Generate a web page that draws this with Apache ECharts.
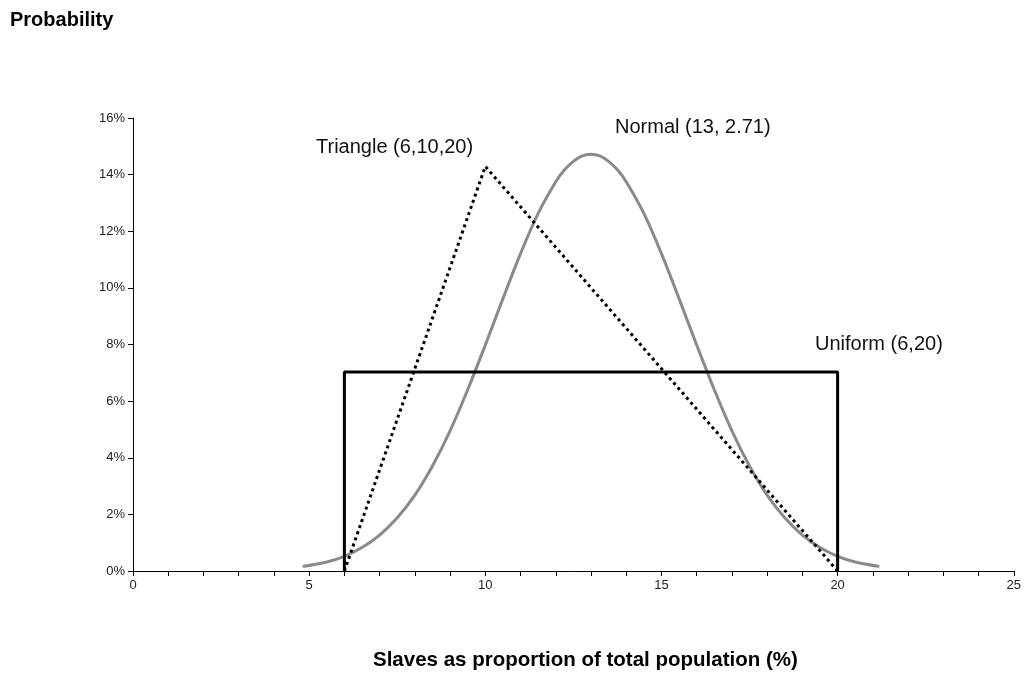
<!DOCTYPE html>
<html><head><meta charset="utf-8">
<script src="https://cdn.jsdelivr.net/npm/echarts@6/dist/echarts.min.js"></script>
<style>html,body{margin:0;padding:0;background:#fff}#c{width:1024px;height:679px}</style>
</head><body><div id="c"></div>
<script>
// Data (values in %)
const normalX = [4.85,5.5,6,6.5,7,7.5,8,8.5,9,9.5,10,10.5,11,11.5,12,12.25,12.5,12.75,13,13.25,13.5,13.75,14,14.5,15,15.5,16,16.5,17,17.5,18,18.5,19,19.5,20,20.5,21.15];
const normalY = [0.17,0.32,0.52,0.83,1.27,1.88,2.68,3.71,4.95,6.40,7.98,9.62,11.21,12.63,13.75,14.17,14.47,14.66,14.72,14.66,14.47,14.17,13.75,12.63,11.21,9.62,7.98,6.40,4.95,3.71,2.68,1.88,1.27,0.83,0.52,0.32,0.17];
const triangleX = [6,10,20];
const triangleY = [0,14.29,0];
const uniformX = [6,6,20,20];
const uniformY = [0,7.03,7.03,0];
const yTicks = [0,2,4,6,8,10,12,14,16];
const xTicks = [0,5,10,15,20,25];

const zip = (a,b)=>a.map((v,i)=>[v,b[i]]);
const FONT = 'Liberation Sans, Arial, sans-serif';
const chart = echarts.init(document.getElementById('c'), null, {renderer:'canvas'});
chart.setOption({
  animation:false,
  backgroundColor:'#fff',
  grid:{left:133,right:10,top:118,bottom:108,containLabel:false},
  xAxis:{type:'value',min:xTicks[0],max:xTicks[xTicks.length-1],interval:5,
    axisLine:{lineStyle:{color:'#000',width:1}},
    axisTick:{show:true,length:5,lineStyle:{color:'#000'}},
    minorTick:{show:true,splitNumber:5,length:5,lineStyle:{color:'#000'}},
    splitLine:{show:false},
    axisLabel:{color:'#222',fontSize:13,fontFamily:FONT,margin:8}},
  yAxis:{type:'value',min:yTicks[0],max:yTicks[yTicks.length-1],interval:2,
    axisLine:{show:true,lineStyle:{color:'#000',width:1}},
    axisTick:{show:true,length:5,lineStyle:{color:'#000'}},
    splitLine:{show:false},
    axisLabel:{color:'#222',fontSize:13,fontFamily:FONT,margin:8,formatter:'{value}%'}},
  series:[
    {name:'Uniform',type:'line',data:zip(uniformX,uniformY),symbol:'none',
      lineStyle:{color:'#000',width:3},z:3},
    {name:'Normal',type:'line',data:zip(normalX,normalY),symbol:'none',smooth:0.35,
      lineStyle:{color:'#8a8a8a',width:3,cap:'round'},z:2},
    {name:'Triangle',type:'line',data:zip(triangleX,triangleY),symbol:'none',
      lineStyle:{color:'#000',width:3,type:[3,3.5],cap:'butt'},z:4}
  ],
  graphic:[
    {type:'text',left:10,top:10,style:{text:'Probability',font:'bold 20px '+FONT,fill:'#000'}},
    {type:'text',left:316,top:137,style:{text:'Triangle (6,10,20)',font:'20px '+FONT,fill:'#111'}},
    {type:'text',left:615,top:117,style:{text:'Normal (13, 2.71)',font:'20px '+FONT,fill:'#111'}},
    {type:'text',left:815,top:334,style:{text:'Uniform (6,20)',font:'20px '+FONT,fill:'#111'}},
    {type:'text',left:373,top:650,style:{text:'Slaves as proportion of total population (%)',font:'bold 20.5px '+FONT,fill:'#000'}}
  ]
});
</script></body></html>
